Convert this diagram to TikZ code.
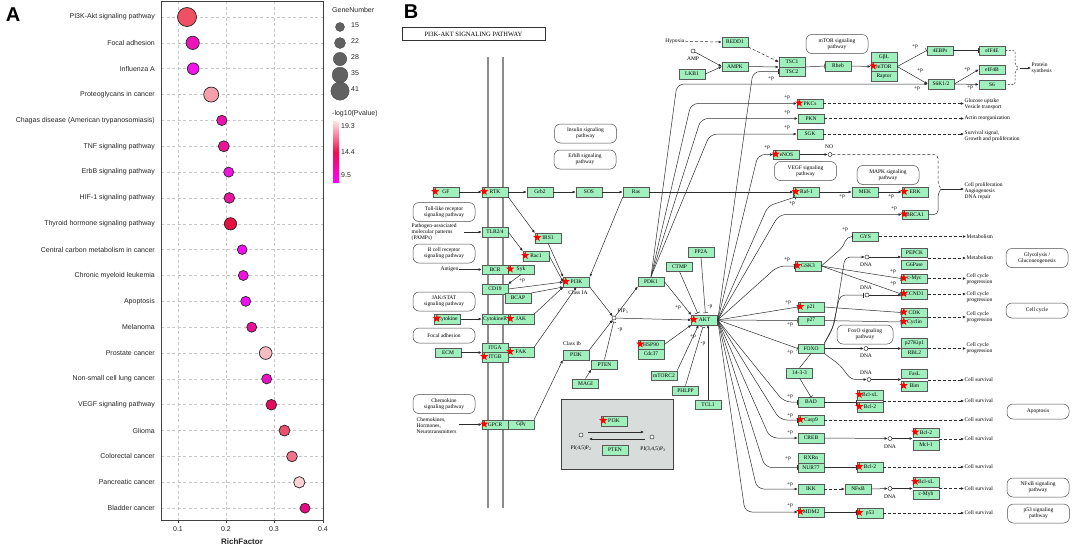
\documentclass[tikz,border=0pt]{standalone}
\usepackage{fontspec}
\setmainfont{Liberation Serif}
\newfontfamily\asans{Liberation Sans}
\usetikzlibrary{arrows.meta,shapes.geometric}
\definecolor{kg}{RGB}{160,240,190}
\definecolor{lnc}{RGB}{45,45,45}
\definecolor{grayb}{RGB}{216,221,219}
\definecolor{cbtop}{RGB}{255,228,232}
\definecolor{cbmid}{RGB}{240,15,75}
\definecolor{cbbot}{RGB}{255,0,255}
\newcommand{\kf}{\fontsize{5.5}{6}\selectfont}
\newcommand{\af}{\asans\fontsize{7}{8}\selectfont}
\newcommand{\kb}[3]{\node[gbox] (#1) at (#2) {#3};}
\newcommand{\kst}[1]{\node[kstar] (s#1) at ([xshift=2.5pt,yshift=0.5pt]#1.west) {};}
\newcommand{\plab}[3]{\node[plus] (#1) at (#2) {#3};}
\begin{document}
\begin{tikzpicture}[x=1pt,y=-1pt,
 gbox/.style={draw=black!65, fill=kg, minimum width=26pt, minimum height=9.5pt, inner sep=0pt, font=\kf, line width=0.5pt},
 pbox/.style={draw=black!70, fill=white, rounded corners=6pt, minimum width=62pt, minimum height=19pt, align=center, inner sep=1pt, font=\kf, line width=0.5pt},
 kstar/.style={star, star points=5, star point ratio=2.4, fill=red, draw=none, minimum size=8.5pt, inner sep=0pt},
 ar/.style={-{Latex[length=3.2pt,width=2.8pt]}, draw=lnc, line width=0.5pt},
 inh/.style={-{Bar[width=5pt]}, draw=lnc, line width=0.5pt},
 dar/.style={ar, dash pattern=on 3pt off 2pt},
 ln/.style={draw=lnc, line width=0.5pt},
 txt/.style={font=\kf, inner sep=0.5pt, align=left},
 plus/.style={font=\kf, inner sep=0pt},
 dnac/.style={circle, draw=lnc, fill=white, minimum size=4pt, inner sep=0pt, line width=0.5pt},
 alab/.style={font=\af, text=black!85, inner sep=0pt},
 grd/.style={draw=black!22, line width=0.6pt, dash pattern=on 3pt off 2.5pt},
 bub/.style={circle, draw=black!85, line width=0.7pt, inner sep=0pt},
 lbub/.style={circle, fill=black!62, draw=black!70, line width=0.4pt, inner sep=0pt},
 mem/.style={draw=black!45, line width=2.2pt},
]
\useasboundingbox (0,0) rectangle (1072,547);
\fill[white] (0,0) rectangle (1072,547);

%================ PANEL A =================
\node[font=\asans\bfseries\fontsize{20}{20}\selectfont, inner sep=0pt] (A) at (13,15) {A};
\foreach \xx in {178,226,274} {\draw[grd] (\xx,1) -- (\xx,520);}
\foreach \ii in {0,...,19} {\draw[grd] (161,{17+25.85*\ii}) -- (323,{17+25.85*\ii});}
\draw[black!75, line width=0.8pt] (161,1) rectangle (323,520);
\foreach \xx/\tl in {178/0.1,226/0.2,274/0.3,323/0.4} {
  \draw[black!75, line width=0.6pt] (\xx,520) -- (\xx,523);
  \node[alab] (tick\xx) at (\xx,529) {\tl};
}
\node[font=\asans\bfseries\fontsize{8}{9}\selectfont, text=black!85, inner sep=0pt] (xl) at (242,542) {RichFactor};
\foreach \ii/\lbl in {0/{PI3K-Akt signaling pathway},1/{Focal adhesion},2/{Influenza A},3/{Proteoglycans in cancer},4/{Chagas disease (American trypanosomiasis)},5/{TNF signaling pathway},6/{ErbB signaling pathway},7/{HIF-1 signaling pathway},8/{Thyroid hormone signaling pathway},9/{Central carbon metabolism in cancer},10/{Chronic myeloid leukemia},11/{Apoptosis},12/{Melanoma},13/{Prostate cancer},14/{Non-small cell lung cancer},15/{VEGF signaling pathway},16/{Glioma},17/{Colorectal cancer},18/{Pancreatic cancer},19/{Bladder cancer}} {
  \node[alab, anchor=east] (lab\ii) at (155,{17+25.85*\ii}) {\lbl};
}
\foreach \ii/\bx/\bd/\colR/\colG/\colB in {0/187/19/240/80/100,1/192.7/13.3/235/20/185,2/193.2/11.7/240/20/235,3/211.2/15/245/160/170,4/221.8/10.3/235/20/175,5/223.8/11/235/20/150,6/228.7/10/240/20/225,7/229.3/10.7/235/20/160,8/230.5/12.3/230/15/65,9/242.2/9.7/240/15/240,10/243.3/10/240/15/225,11/245.7/10/240/15/240,12/251.7/10/232/15/155,13/265.7/12.7/246/190/195,14/266.7/10/235/15/195,15/271.3/10.7/230/10/95,16/284.5/11/235/80/110,17/292/10.7/242/115/135,18/299.3/11.3/250/210/212,19/305/10/230/10/135} {
  \definecolor{bubc}{RGB}{\colR,\colG,\colB}
  \node[bub, minimum size=\bd*1pt, fill=bubc] (bb\ii) at (\bx,{17+25.85*\ii}) {};
}
% legend
\node[alab, anchor=west] (gn) at (332,10) {GeneNumber};
\node[lbub, minimum size=9pt] (g1) at (340,27) {};
\node[lbub, minimum size=11pt] (g2) at (340,43) {};
\node[lbub, minimum size=13.3pt] (g3) at (340,59) {};
\node[lbub, minimum size=15.7pt] (g4) at (340,75) {};
\node[lbub, minimum size=18.3pt] (g5) at (340,91) {};
\node[alab, anchor=west] (gl1) at (351,25) {15};
\node[alab, anchor=west] (gl2) at (351,41) {22};
\node[alab, anchor=west] (gl3) at (351,57) {28};
\node[alab, anchor=west] (gl4) at (351,73) {35};
\node[alab, anchor=west] (gl5) at (351,89) {41};
\node[alab, anchor=west] (pv) at (332,114) {-log10(Pvalue)};
\shade[top color=cbtop, bottom color=cbmid] (333,121) rectangle (339,152);
\shade[top color=cbmid, bottom color=cbbot] (333,152) rectangle (339,182);
\node[alab, anchor=west] (cb1) at (341,126.5) {19.3};
\node[alab, anchor=west] (cb2) at (341,152) {14.4};
\node[alab, anchor=west] (cb3) at (341,175) {9.5};

%================ PANEL B =================
\node[font=\asans\bfseries\fontsize{20}{20}\selectfont, inner sep=0pt] (B) at (411,12) {B};
\node[draw=black!80, minimum width=143pt, minimum height=13pt, inner sep=0pt, font=\fontsize{6.5}{7}\selectfont] (title) at (473.5,34) {PI3K-AKT SIGNALING PATHWAY};
\draw[mem] (488,57) -- (488,508);
\draw[mem] (503,57) -- (503,508);

% gray box
\node[draw=black!75, fill=grayb, line width=0.8pt, minimum width=112pt, minimum height=70pt, inner sep=0pt] (gbx) at (617,434) {};

% pathway boxes
\node[pbox] (pIns) at (585.5,133.5) {Insulin signaling\\pathway};
\node[pbox] (pErb) at (585,159.5) {ErbB signaling\\pathway};
\node[pbox] (pmT) at (837,44) {mTOR signaling\\pathway};
\node[pbox] (pVE) at (805.5,171) {VEGF signaling\\pathway};
\node[pbox] (pMA) at (888,175) {MAPK signaling\\pathway};
\node[pbox] (pTo) at (444,212) {Toll-like receptor\\signaling pathway};
\node[pbox] (pBc) at (444,253.5) {B cell receptor\\signaling pathway};
\node[pbox] (pJA) at (444,301.5) {JAK/STAT\\signaling pathway};
\node[pbox, minimum height=15pt] (pFo) at (444,335.5) {Focal adhesion};
\node[pbox] (pCh) at (444,404) {Chemokine\\signaling pathway};
\node[pbox] (pGl) at (1037,258) {Glycolysis /\\Gluconeogenesis};
\node[pbox, minimum height=15pt] (pCC) at (1037,310.5) {Cell cycle};
\node[pbox, minimum width=56pt] (pFx) at (865,334.5) {FoxO signaling\\pathway};
\node[pbox, minimum height=15pt] (pAp) at (1038,411.5) {Apoptosis};
\node[pbox] (pNF) at (1038,487.5) {NFκB signaling\\pathway};
\node[pbox] (pP5) at (1038.5,513.5) {p53 signaling\\pathway};

% gene boxes
\kb{GF}{446,192}{GF}
\kb{RTK}{495,192}{RTK}
\kb{Grb}{540,192}{Grb2}
\kb{SOS}{589,192}{SOS}
\kb{Ras}{636,192}{Ras}
\kb{REDD}{735,42}{REDD1}
\kb{AMPK}{735,66.5}{AMPK}
\kb{LKB}{692,74}{LKB1}
\kb{TSCa}{792,62}{TSC1}
\kb{TSCb}{792,71.5}{TSC2}
\kb{Rheb}{838,66}{Rheb}
\kb{GBL}{884,57}{GβL}
\kb{mTOR}{884,66.5}{mTOR}
\kb{Raptor}{884,76}{Raptor}
\kb{EBP}{940,50.5}{4EBPs}
\kb{eIFE}{992,50.5}{eIF4E}
\kb{eIFB}{992,69.5}{eIF4B}
\kb{SsK}{941,84}{S6K1/2}
\kb{Ss}{992,84.5}{S6}
\kb{PKCs}{810,103.5}{PKCs}
\kb{PKN}{811,118.5}{PKN}
\kb{SGK}{810,134}{SGK}
\kb{eNOS}{786.5,154.5}{eNOS}
\kb{Raf}{806.5,192}{Raf-1}
\kb{MEK}{865,192}{MEK}
\kb{ERK}{915,192}{ERK}
\kb{BRCA}{915,214.5}{BRCA1}
\kb{GYS}{865.5,236.5}{GYS}
\kb{PEPCK}{914.5,252.5}{PEPCK}
\kb{GPase}{914.5,264.5}{G6Pase}
\kb{cMyc}{914.5,278.5}{c-Myc}
\kb{CCND}{914.5,294}{CCND1}
\kb{CDK}{914.5,312.5}{CDK}
\kb{Cyclin}{914.5,322}{Cyclin}
\kb{Kip}{914.5,343}{p27Kip1}
\kb{RBL}{914.5,352.5}{RBL2}
\kb{FasL}{914.5,373.5}{FasL}
\kb{Bim}{914.5,386}{Bim}
\kb{BclxLa}{870,395}{Bcl-xL}
\kb{Bcla}{870,407}{Bcl-2}
\kb{Bclb}{926,432.5}{Bcl-2}
\kb{Mcl}{926,445}{Mcl-1}
\kb{Bclc}{870,467}{Bcl-2}
\kb{NFkB}{858,489}{NFκB}
\kb{BclxLb}{926,482}{Bcl-xL}
\kb{cMyb}{926,494.5}{c-Myb}
\kb{pfs}{870,513}{p53}
\kb{TLR}{495,232}{TLR2/4}
\kb{IRS}{548,238}{IRS1}
\kb{Rac}{536,256}{Rac1}
\kb{BCR}{495,269.5}{BCR}
\kb{Syk}{521,269.5}{Syk}
\kb{CDn}{495,289}{CD19}
\kb{BCAP}{518,298}{BCAP}
\kb{PIa}{576.5,282}{PI3K}
\kb{Cytk}{447.5,319}{Cytokine}
\kb{CytR}{495,319}{CytokineR}
\kb{JAK}{521,319}{JAK}
\kb{ECM}{448,352.5}{ECM}
\kb{ITGA}{495,347.5}{ITGA}
\kb{ITGB}{495,357}{ITGB}
\kb{FAK}{521,352}{FAK}
\kb{PIb}{576,355}{PI3K}
\kb{PTEN}{604.5,364.5}{PTEN}
\kb{MAGI}{585.5,383.5}{MAGI}
\kb{GPCR}{495,424.5}{GPCR}
\kb{Gbg}{521,424.5}{Gβγ}
\kb{PDK}{651,281.5}{PDK1}
\kb{PPtA}{701,252}{PP2A}
\kb{CTMP}{679.5,266.5}{CTMP}
\kb{AKT}{704.5,320}{AKT}
\kb{HSP}{651,344.5}{HSP90}
\kb{Cdc}{651,354}{Cdc37}
\kb{mTORCt}{664,375.5}{mTORC2}
\kb{PHLPP}{685.5,390.5}{PHLPP}
\kb{TCL}{708,404.5}{TCL1}
\kb{GSK}{808,266}{GSK3}
\kb{pto}{811,307}{p21}
\kb{pts}{811,320.5}{p27}
\kb{FOXO}{811,348.5}{FOXO}
\kb{fourteen}{799.5,373}{14-3-3}
\kb{BAD}{811,402}{BAD}
\kb{Casp}{811,420}{Casp9}
\kb{CREB}{811,438}{CREB}
\kb{RXR}{811,458}{RXRα}
\kb{NUR}{811,467.5}{NUR77}
\kb{IKK}{811,489}{IKK}
\kb{MDM}{811,512}{MDM2}
\kb{PIc}{614,421}{PI3K}
\kb{PTENc}{615,450}{PTEN}

% stars
\foreach \nn in {GF,RTK,mTOR,PKCs,eNOS,Raf,ERK,BRCA,cMyc,CCND,CDK,Cyclin,Bim,BclxLa,Bcla,Bclb,Bclc,BclxLb,pfs,IRS,Rac,Syk,PIa,Cytk,JAK,ITGB,FAK,GPCR,AKT,HSP,GSK,pto,Casp,MDM,PIc} {\kst{\nn}}

% circles and small texts
\node[dnac] (cAMP) at (693,51) {};
\node[txt] (tAMP) at (693,59) {AMP};
\node[dnac] (cNO) at (830,154.5) {};
\node[txt] (tNO) at (829,147) {NO};
\node[dnac] (cPIP) at (614,318) {};
\node[txt] (tPIP) at (623,311) {PIP\textsubscript{3}};
\node[dnac] (c45) at (581,435) {};
\node[txt] (l45) at (581,448) {PI(4,5)P\textsubscript{2}};
\node[dnac] (c345) at (652,437) {};
\node[txt] (l345) at (653,449) {PI(3,4,5)P\textsubscript{3}};
\node[dnac] (dnaA) at (867,257) {};
\node[txt] (ldA) at (866,264.5) {DNA};
\node[dnac] (dnaB) at (867,295) {};
\node[txt] (ldB) at (866,288) {DNA};
\node[dnac] (dnaC) at (866,348.5) {};
\node[txt] (ldC) at (866,355.5) {DNA};
\node[dnac] (dnaD) at (869,379.5) {};
\node[txt] (ldD) at (866,372.5) {DNA};
\node[dnac] (dnaE) at (890,438.5) {};
\node[txt] (ldE) at (890,446.5) {DNA};
\node[dnac] (dnaF) at (890,488.5) {};
\node[txt] (ldF) at (890,496.5) {DNA};
\node[txt, anchor=east] (tHyp) at (685,41) {Hypoxia};
\node[txt, anchor=west] (tPAMP) at (411,232) {Pathogen-associated\\molecular patterns\\(PAMPs)};
\node[txt, anchor=east] (tAnt) at (459,269.5) {Antigen};
\node[txt, anchor=west] (tChem) at (416,426) {Chemokines,\\Hormones,\\Neurotransmitters};
\node[txt] (tCIA) at (578,293) {Class IA};
\node[txt] (tCIb) at (572,344) {Class Ib};
\coordinate (pampA) at (464,232);
\coordinate (chemA) at (459,424.5);

% right texts
\node[txt, anchor=west] (tGlu) at (964,104) {Glucose uptake\\Vesicle transport};
\node[txt, anchor=west] (tAct) at (964,118.5) {Actin reorganization};
\node[txt, anchor=west] (tSurv) at (964,136) {Survival signal,\\Growth and proliferation};
\node[txt, anchor=west] (tProl) at (964,191) {Cell proliferation\\Angiogenesis\\DNA repair};
\node[txt, anchor=west] (tProt) at (1031,68) {Protein\\synthesis};
\node[txt, anchor=west] (tMa) at (966,236.5) {Metabolism};
\node[txt, anchor=west] (tMb) at (966,258) {Metabolism};
\node[txt, anchor=west] (tCCa) at (966,279.5) {Cell cycle\\progression};
\node[txt, anchor=west] (tCCb) at (966,297) {Cell cycle\\progression};
\node[txt, anchor=west] (tCCc) at (966,317) {Cell cycle\\progression};
\node[txt, anchor=west] (tCCd) at (966,348.5) {Cell cycle\\progression};
\node[txt, anchor=west] (tCSa) at (964,380) {Cell survival};
\node[txt, anchor=west] (tCSb) at (964,401) {Cell survival};
\node[txt, anchor=west] (tCSc) at (964,420) {Cell survival};
\node[txt, anchor=west] (tCSd) at (964,439) {Cell survival};
\node[txt, anchor=west] (tCSe) at (964,467) {Cell survival};
\node[txt, anchor=west] (tCSf) at (964,488.5) {Cell survival};
\node[txt, anchor=west] (tCSg) at (964,513) {Cell survival};

% +p labels
\plab{pla}{771,79}{+p}
\plab{plb}{787,98}{+p}
\plab{plc}{787,113}{+p}
\plab{pld}{787,128}{+p}
\plab{ple}{767,148}{+p}
\plab{plf}{792,204}{+p}
\plab{plg}{842,197}{+p}
\plab{plh}{891,197}{+p}
\plab{pli}{894,209}{+p}
\plab{plj}{915,47}{+p}
\plab{plk}{920,71}{+p}
\plab{pll}{917,89}{+p}
\plab{plm}{967,70}{+p}
\plab{pln}{970,88}{+p}
\plab{plo}{845,230}{+p}
\plab{plp}{893,272}{+p}
\plab{plq}{893,284}{+p}
\plab{plr}{787,260}{+p}
\plab{pls}{788,303}{+p}
\plab{plt}{790,325}{+p}
\plab{plu}{790,353}{+p}
\plab{plv}{790,397}{+p}
\plab{plw}{790,416}{+p}
\plab{plx}{790,433}{+p}
\plab{ply}{788,459}{+p}
\plab{plz}{790,485}{+p}
\plab{plaa}{790,506}{+p}
\plab{plab}{678,308}{+p}
\plab{plac}{710,307}{-p}
\plab{plad}{693,337}{+p}
\plab{plae}{703,344}{-p}
\plab{plaf}{620,330}{-p}
\plab{plag}{522,281}{+p}

%---------------- connectors ----------------
% left side
\draw[ar] (GF) -- (RTK);
\draw[ar] (RTK) -- (Grb);
\draw[ar] (Grb) -- (SOS);
\draw[ar] (SOS) -- (Ras);
\draw[ar] (Ras) -- (Raf);
\draw[ar] (Raf) -- (MEK);
\draw[ar] (MEK) -- (ERK);
\draw[ar] (RTK.south east) -- (IRS.north west);
\draw[ar] (IRS.south) -- (PIa.north west);
\draw[ar] (TLR.east) -- (Rac.north west);
\draw[ar] (Rac.east) -- (PIa.west);
\draw[ar] (Syk.south) -- (CDn.north east);
\draw[ar] (CDn.east) -- (PIa.west);
\draw[ar] (BCAP.north east) -- (PIa.south west);
\draw[ar] (JAK.north east) -- (PIa.south west);
\draw[ar] (FAK.north east) -- (PIa.south);
\draw[ar] (Ras.south west) -- (PIa.north east);
\draw[ar] (pampA) -- (TLR.west);
\draw[ar] (tAnt) -- (BCR);
\draw[ar] (Cytk) -- (CytR);
\draw[ar] (ECM.east) -- (ECM.east -| ITGA.west);
\draw[ar] (chemA) -- (GPCR.west);
\draw[ar] (Gbg.north east) -- (PIb.south west);
\draw[ar] (PIa.south east) -- (cPIP);
\draw[ar] (PIb.north east) -- (cPIP);
\draw[inh, shorten >=1.5pt] (PTEN.north) -- (cPIP.south);
\draw[ar] (MAGI.north) -- (PTEN.south west);
\draw[ar] (cPIP) -- (PDK.south west);
\draw[ar] (cPIP) -- (AKT.west);
\draw[ar] (PDK.east) -- (AKT.north west);
\draw[inh, shorten >=2pt] (CTMP.south) -- ([xshift=-6pt]AKT.north);
\draw[inh, shorten >=2pt] (PPtA.south) -- ([xshift=1pt]AKT.north);
\draw[ar] (HSP.east) -- (AKT.south west);
\draw[ar] (mTORCt.north east) -- ([xshift=-6pt]AKT.south);
\draw[inh, shorten >=2pt] (PHLPP.north) -- ([xshift=-1pt]AKT.south);
\draw[ar] (TCL.north) -- (TCL.north |- AKT.south);
% gray box arrows
\coordinate (ga1) at (588,432);
\coordinate (ga2) at (644,432);
\coordinate (gb1) at (645,439);
\coordinate (gb2) at (589,439);
\draw[ar] (ga1) -- (ga2);
\draw[ar] (gb1) -- (gb2);

% top
\draw[dar] (tHyp) -- (REDD.west);
\draw[dar] (REDD.south east) -- (TSCa.west);
\draw[ar] (cAMP) -- (AMPK.west);
\draw[ar] (LKB.east) -- (AMPK.west);
\draw[ar] (AMPK.east) -- (TSCa.south west);
\draw[inh] (TSCa.south east) -- (Rheb.west);
\draw[ar] (Rheb.east) -- (mTOR.west);
\draw[inh] (mTOR.east) -- (EBP.west);
\draw[ar] (mTOR.east) -- (SsK.west);
\draw[inh] (EBP.east) -- (eIFE.west);
\draw[ar] (SsK.east) -- (eIFB.west);
\draw[ar] (SsK.east) -- (Ss.west);
\draw[ln, dash pattern=on 2pt off 1.5pt, rounded corners=2pt] (eIFE.east) -- (1015,50.5) -- (1015,65) -- (1019,68) -- (1015,71) -- (1015,84.5) -- (Ss.east);
\coordinate (brP) at (1020,68);
\draw[ar] (brP) -- (tProt.west);

% PDK1 fan
\draw[ar, rounded corners=7pt] (PDK.north) -- (677,84) -- (SsK.west);
\draw[ar, rounded corners=7pt] (PDK.north) -- (691,103.5) -- (PKCs.west);
\draw[ar, rounded corners=7pt] (PDK.north) -- (701,118.5) -- (PKN.west);
\draw[ar, rounded corners=7pt] (PDK.north) -- (710,134) -- (SGK.west);

% NO and brace
\draw[ar] (eNOS.east) -- (cNO.west);
\coordinate (brC) at (941,189);
\draw[ln, dash pattern=on 3pt off 2pt, rounded corners=4pt] (cNO.east) -- (938,154.5) -- (938,185) -- (brC);
\draw[ln, rounded corners=4pt] (brC) -- (938,193) -- (938,214.5) -- (BRCA.east);
\draw[ar] (brC) -- (tProl.west |- brC);

% AKT fan
\draw[inh, rounded corners=7pt] (AKT.east) -- (753,71.5) -- (TSCb.west);
\draw[ar, rounded corners=7pt] (AKT.east) -- (758,154.5) -- (eNOS.west);
\draw[inh, rounded corners=6pt] (AKT.east) -- (768,206) -- ([xshift=2pt]Raf.south west);
\draw[ar, rounded corners=7pt] (AKT.east) -- (779,214.5) -- (BRCA.west);
\draw[inh, rounded corners=7pt] (AKT.east) -- (778,266) -- (GSK.west);
\draw[inh] (AKT.east) -- (pto.west);
\draw[inh] (AKT.east) -- (pts.west);
\draw[inh] (AKT.east) -- (FOXO.west);
\draw[inh, rounded corners=7pt] (AKT.east) -- (784,402) -- (BAD.west);
\draw[inh, rounded corners=7pt] (AKT.east) -- (780,420) -- (Casp.west);
\draw[ar, rounded corners=7pt] (AKT.east) -- (770,438) -- (CREB.west);
\draw[inh, rounded corners=7pt] (AKT.east) -- (765,467.5) -- (NUR.west);
\draw[ar, rounded corners=7pt] (AKT.east) -- (757,489) -- (IKK.west);
\draw[ar, rounded corners=7pt] (AKT.east) -- (745,512) -- (MDM.west);

% GSK3, p21, p27
\draw[inh, rounded corners=5pt] (GSK.east) -- (843,247) -- (847,236.5) -- (GYS.west);
\draw[inh] (GSK.east) -- (cMyc.west);
\draw[inh] (GSK.east) -- (CCND.west);
\draw[inh] (pto.east) -- (CDK.west);
\draw[inh] (pts.east) -- (Cyclin.west);

% FOXO
\draw[ar, rounded corners=5pt] (FOXO.north east) -- (834,325) -- (845,257) -- (dnaA.west);
\draw[inh, shorten >=1.5pt, rounded corners=5pt] (FOXO.north east) -- (832,330) -- (840,295) -- (dnaB.west);
\draw[ar] (FOXO.east) -- (dnaC.west);
\draw[ar, rounded corners=5pt] (FOXO.south east) -- (840,365) -- (851,379.5) -- (dnaD.west);
\draw[ar] (dnaA.east) -- (dnaA.east -| PEPCK.west);
\draw[ar] (dnaB.east) -- (dnaB.east -| CCND.west);
\draw[ar] (dnaC.east) -- (dnaC.east -| Kip.west);
\draw[ar] (dnaD.east) -- (dnaD.east -| FasL.west);
\draw[ln] (FOXO.south) -- (fourteen.north);
\draw[inh] (fourteen.south) -- (BAD.north);

% lower right
\draw[inh] (BAD.east) -- (BAD.east -| BclxLa.west);
\draw[ar] (CREB.east) -- (dnaE.west);
\draw[ar] (dnaE.east) -- (dnaE.east -| Bclb.west);
\draw[inh] (NUR.east) -- (NUR.east -| Bclc.west);
\draw[dar] (IKK.east) -- (NFkB.west);
\draw[ar] (NFkB.east) -- (dnaF.west);
\draw[ar] (dnaF.east) -- (dnaF.east -| BclxLb.west);
\draw[inh] (MDM.east) -- (MDM.east -| pfs.west);

% dashed outputs
\draw[dar] (PKCs.east) -- (tGlu.west |- PKCs.east);
\draw[dar] (PKN.east) -- (tAct.west |- PKN.east);
\draw[dar] (SGK.east) -- (tSurv.west |- SGK.east);
\draw[dar] (GYS.east) -- (tMa.west |- GYS.east);
\draw[dar] (PEPCK.east |- tMb.west) -- (tMb.west);
\draw[dar] (cMyc.east) -- (tCCa.west |- cMyc.east);
\draw[dar] (CCND.east) -- (tCCb.west |- CCND.east);
\draw[dar] (CDK.east |- tCCc.west) -- (tCCc.west);
\draw[dar] (Kip.east |- tCCd.west) -- (tCCd.west);
\draw[dar] (FasL.east |- tCSa.west) -- (tCSa.west);
\draw[dar] (BclxLa.east |- tCSb.west) -- (tCSb.west);
\draw[dar] (Casp.east) -- (tCSc.west |- Casp.east);
\draw[dar] (Bclb.east |- tCSd.west) -- (tCSd.west);
\draw[dar] (Bclc.east) -- (tCSe.west |- Bclc.east);
\draw[dar] (BclxLb.east |- tCSf.west) -- (tCSf.west);
\draw[dar] (pfs.east) -- (tCSg.west |- pfs.east);
\end{tikzpicture}
\end{document}
